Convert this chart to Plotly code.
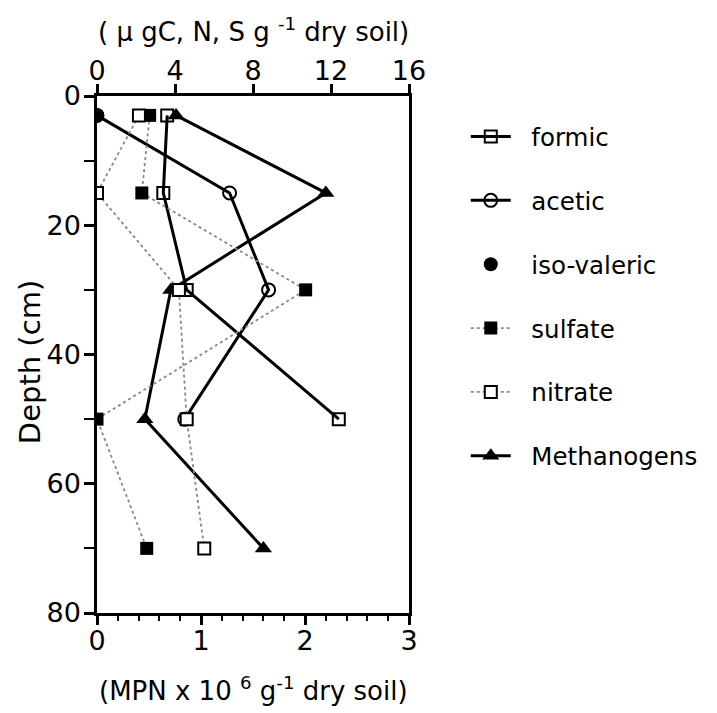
import plotly.graph_objects as go

depth = [3, 15, 30, 50, 70]
formic_depth = [3, 15, 30, 50]
formic = [3.6, 3.4, 4.6, 12.4]
acetic_depth = [3, 15, 30, 50]
acetic = [0.0, 6.8, 8.8, 4.5]
isovaleric_depth = [3]
isovaleric = [0.0]
sulfate = [2.7, 2.3, 10.7, 0.0, 2.55]
nitrate = [2.15, 0.0, 4.2, 4.6, 5.5]
methanogens = [0.76, 2.2, 0.71, 0.46, 1.6]

top_ticks = [0, 4, 8, 12, 16]
bottom_ticks = [0, 1, 2, 3]
depth_ticks = [0, 20, 40, 60, 80]

FONT = "DejaVu Sans"
PAD = "\u00a0\u00a0"
fig = go.Figure()

fig.add_trace(go.Scatter(
    x=formic, y=formic_depth, xaxis="x2", yaxis="y", name=PAD + "formic", legendgroup="a",
    mode="lines+markers", line=dict(color="black", width=3),
    marker=dict(symbol="square-open", size=12, color="black", line=dict(width=2))))
fig.add_trace(go.Scatter(
    x=acetic, y=acetic_depth, xaxis="x2", yaxis="y", name=PAD + "acetic", legendgroup="b",
    mode="lines+markers", line=dict(color="black", width=3),
    marker=dict(symbol="circle-open", size=13, color="black", line=dict(width=2))))
fig.add_trace(go.Scatter(
    x=isovaleric, y=isovaleric_depth, xaxis="x2", yaxis="y", name=PAD + "iso-valeric", legendgroup="c",
    mode="markers", marker=dict(symbol="circle", size=14, color="black")))
fig.add_trace(go.Scatter(
    x=sulfate, y=depth, xaxis="x2", yaxis="y", name=PAD + "sulfate", legendgroup="d",
    mode="lines+markers", line=dict(color="#888888", width=1.8, dash="dot"),
    marker=dict(symbol="square", size=13, color="black")))
fig.add_trace(go.Scatter(
    x=nitrate, y=depth, xaxis="x2", yaxis="y", name=PAD + "nitrate", legendgroup="e",
    mode="lines+markers", line=dict(color="#888888", width=1.8, dash="dot"),
    marker=dict(symbol="square", size=12, color="white", line=dict(color="black", width=2))))
fig.add_trace(go.Scatter(
    x=methanogens, y=depth, xaxis="x", yaxis="y", name=PAD + "Methanogens", legendgroup="f",
    mode="lines+markers", line=dict(color="black", width=3),
    marker=dict(symbol="triangle-up", size=15, color="black")))

fig.update_layout(
    width=709, height=705,
    margin=dict(l=89, r=308, t=88, b=100),
    paper_bgcolor="white", plot_bgcolor="white",
    font=dict(family=FONT, size=24, color="black"),
    showlegend=True,
    legend=dict(x=1.182, y=0.965, xanchor="left", yanchor="top",
                font=dict(size=24.5), tracegroupgap=29, itemwidth=40,
                traceorder="grouped", bgcolor="rgba(0,0,0,0)"),
    xaxis=dict(range=[0, 3], tickvals=bottom_ticks, side="bottom", automargin=False,
               showline=True, linecolor="black", linewidth=2.5,
               ticks="outside", ticklen=9, tickwidth=2.5, tickcolor="black",
               ticklabelstandoff=-7,
               minor=dict(dtick=0.2, ticks="outside", ticklen=5, tickwidth=2, tickcolor="black"),
               showgrid=False, zeroline=False, tickfont=dict(size=27)),
    xaxis2=dict(range=[0, 16], tickvals=top_ticks, side="top", overlaying="x", automargin=False,
                showline=True, linecolor="black", linewidth=2.5,
                ticks="outside", ticklen=9, tickwidth=2.5, tickcolor="black",
                ticklabelstandoff=-7,
                showgrid=False, zeroline=False, tickfont=dict(size=27)),
    yaxis=dict(range=[80, 0], tickvals=depth_ticks, automargin=False,
               showline=True, linecolor="black", linewidth=2.5, mirror=True,
               ticks="outside", ticklen=10, tickwidth=2.5, tickcolor="black",
               ticklabelstandoff=-2,
               minor=dict(dtick=10, ticks="outside", ticklen=10, tickwidth=2, tickcolor="black"),
               showgrid=False, zeroline=False, tickfont=dict(size=27)),
    annotations=[
        dict(text="Depth (cm)", xref="paper", yref="paper", x=-0.215, y=0.485,
             xanchor="center", yanchor="middle", textangle=-90, showarrow=False,
             font=dict(size=29)),
        dict(text="( µ gC, N, S g <sup>-1</sup> dry soil)", xref="paper", yref="paper",
             x=0.5, y=1.128, xanchor="center", yanchor="middle", showarrow=False,
             font=dict(size=26)),
        dict(text="(MPN x 10 <sup>6</sup> g<sup>-1</sup> dry soil)", xref="paper", yref="paper",
             x=0.5, y=-0.147, xanchor="center", yanchor="middle", showarrow=False,
             font=dict(size=26)),
    ],
)

fig.write_html("out.html")
